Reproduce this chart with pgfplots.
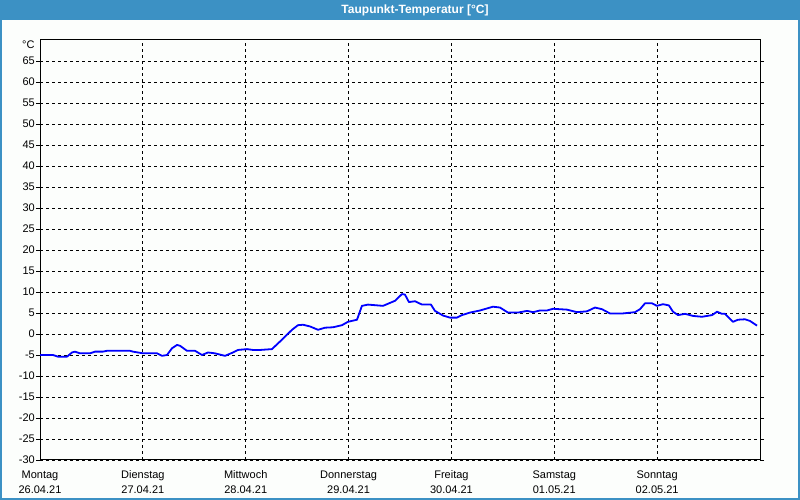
\documentclass[border=0pt]{standalone}
\usepackage{fontspec}
\setmainfont{Liberation Sans}
\usepackage{pgfplots}
\pgfplotsset{compat=1.18}
\definecolor{barblue}{RGB}{60,145,196}
\definecolor{bgc}{RGB}{252,254,252}
\begin{document}
\begin{tikzpicture}[x=1pt,y=1pt]
\useasboundingbox (0,0) rectangle (800,500);
\fill[bgc] (0,0) rectangle (800,500);
\fill[barblue] (0,480) rectangle (800,500);
\draw[barblue, line width=2pt] (1,1) rectangle (799,499);
\node[white, font=\bfseries\fontsize{12}{14}\selectfont] at (415,490) {Taupunkt-Temperatur [°C]};
\node[font=\fontsize{11}{13}\selectfont, anchor=east] at (38,455) {°C};
\begin{axis}[
  at={(40pt,40pt)}, anchor=south west,
  scale only axis, width=720pt, height=420pt,
  xmin=0, xmax=7, ymin=-30, ymax=70,
  ytick={-30,-25,...,65},
  xtick={0,1,2,3,4,5,6},
  xticklabels={{Montag\\26.04.21},{Dienstag\\27.04.21},{Mittwoch\\28.04.21},{Donnerstag\\29.04.21},{Freitag\\30.04.21},{Samstag\\01.05.21},{Sonntag\\02.05.21}},
  xticklabel style={align=center, font=\fontsize{11}{15}\selectfont, yshift=-3pt},
  yticklabel style={font=\fontsize{11}{13}\selectfont, inner sep=1pt},
  /pgf/number format/assume math mode=true,
  grid=major,
  major grid style={black, dash pattern=on 3pt off 3pt, line width=0.8pt},
  axis line style={black, line width=1pt},
  tick align=outside,
  major tick length=4pt,
  ytick style={black, line width=0.8pt},
  xtick style={draw=none},
]
\addplot[blue, line width=1.8pt, line join=round] coordinates {
(0,-5.0) (0.126,-5.0) (0.175,-5.4) (0.262,-5.4) (0.311,-4.4) (0.340,-4.2) (0.389,-4.6) (0.486,-4.6) (0.535,-4.2) (0.612,-4.2) (0.651,-4.0) (0.875,-4.0) (0.904,-4.2) (1.001,-4.6) (1.137,-4.6) (1.186,-5.2) (1.235,-5.0) (1.283,-3.4) (1.332,-2.6) (1.361,-2.8) (1.429,-4.0) (1.507,-4.0) (1.575,-5.0) (1.633,-4.4) (1.701,-4.6) (1.799,-5.2) (1.876,-4.4) (1.925,-3.8) (2.012,-3.6) (2.071,-3.8) (2.139,-3.8) (2.255,-3.6) (2.333,-1.8) (2.450,1.0) (2.508,2.1) (2.557,2.2) (2.625,1.8) (2.703,1.0) (2.771,1.5) (2.849,1.6) (2.936,2.1) (2.994,2.9) (3.082,3.4) (3.130,6.7) (3.189,7.0) (3.335,6.7) (3.383,7.2) (3.451,7.9) (3.519,9.5) (3.548,9.4) (3.587,7.6) (3.646,7.8) (3.714,7.0) (3.801,7.0) (3.840,5.5) (3.918,4.4) (3.986,3.9) (4.054,3.9) (4.103,4.5) (4.180,5.1) (4.278,5.6) (4.404,6.5) (4.472,6.3) (4.550,5.1) (4.647,5.1) (4.735,5.5) (4.793,5.2) (4.861,5.6) (4.929,5.6) (4.987,6.0) (5.123,5.8) (5.221,5.2) (5.318,5.4) (5.396,6.3) (5.464,5.9) (5.541,4.9) (5.668,4.9) (5.785,5.2) (5.833,5.9) (5.882,7.3) (5.950,7.3) (5.998,6.7) (6.057,7.1) (6.115,6.8) (6.154,5.3) (6.203,4.5) (6.271,4.8) (6.349,4.3) (6.436,4.1) (6.534,4.5) (6.582,5.3) (6.630,4.8) (6.659,4.8) (6.737,2.9) (6.786,3.4) (6.854,3.5) (6.903,3.1) (6.971,2.0)
};
\end{axis}
\end{tikzpicture}
\end{document}
